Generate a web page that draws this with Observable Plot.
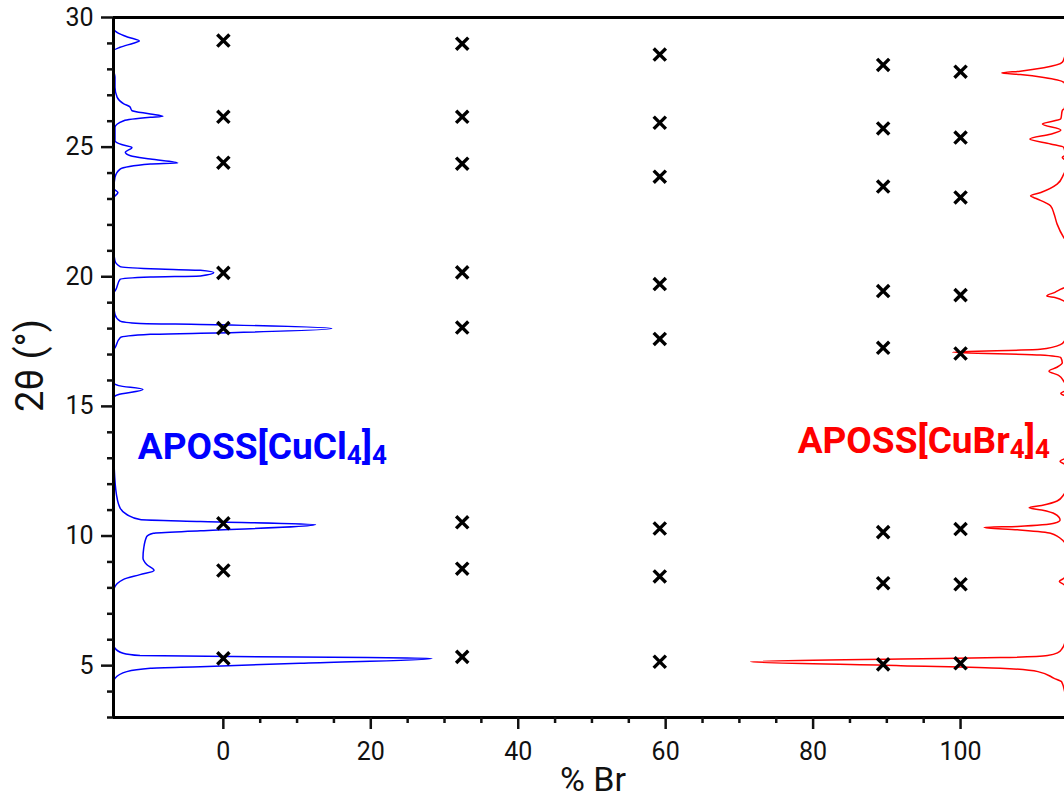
<!DOCTYPE html>
<html>
<head>
<meta charset="utf-8">
<script src="https://cdn.jsdelivr.net/npm/d3@7"></script>
<script src="https://cdn.jsdelivr.net/npm/@observablehq/plot@0.6"></script>
<style>
  html, body { margin: 0; padding: 0; background: #fff; }
  #chart { width: 1064px; height: 801px; overflow: hidden; }
</style>
</head>
<body>
<div id="chart"></div>
<script>
// ---- Data ----
// Composition (% Br) of each sample column of peak markers
const brPercent = [0, 32.4, 59.2, 89.5, 100];
// Peak positions 2θ (°) for each column (same order as brPercent)
const peaks0   = [29.11, 26.17, 24.40, 20.15, 18.02, 10.49, 8.67, 5.28];
const peaks32  = [28.99, 26.17, 24.36, 20.17, 18.04, 10.53, 8.74, 5.34];
const peaks59  = [28.57, 25.94, 23.86, 19.72, 17.60, 10.29, 8.44, 5.15];
const peaks89  = [28.17, 25.72, 23.48, 19.45, 17.26, 10.15, 8.18, 5.05];
const peaks100 = [27.91, 25.37, 23.06, 19.29, 17.04, 10.27, 8.14, 5.09];

// Blue XRD pattern of APOSS[CuCl4]4 (2θ, plotted on the % Br axis, baseline at left)
const blueTheta = [3.0,4.4,4.51,4.77,4.90,4.96,5.09,5.28,5.31,5.35,5.39,5.48,5.67,5.8,7.9,7.99,8.32,8.51,8.67,8.90,9.15,9.53,9.98,10.11,10.20,10.44,10.56,10.64,10.83,11.08,11.6,12.62,13.2,15.35,15.45,15.65,15.8,15.91,17.2,17.26,17.65,17.78,17.82,18.00,18.16,18.20,18.29,18.55,18.9,19.4,19.45,19.90,19.99,20.03,20.16,20.25,20.31,20.39,20.61,21.0,23.05,23.25,23.4,23.83,24.15,24.35,24.39,24.54,24.67,24.8,24.99,25.1,25.25,25.76,26.02,26.15,26.19,26.28,26.41,26.56,26.67,26.92,27.31,27.7,27.95,28.72,28.85,29.01,29.09,29.24,29.39,29.56,30.0];
const blueSignal = [-14.85,-14.85,-14.7,-13.1,-9.9,-3.1,10.4,28.3,19.5,1.4,-11.3,-13.6,-14.7,-14.85,-14.85,-14.8,-13.6,-11.3,-9.4,-10.4,-10.9,-10.8,-10.4,-9.5,-3.1,12.5,-3.1,-11.3,-13.1,-14.0,-14.5,-14.8,-14.85,-14.85,-14.3,-10.9,-14.2,-14.85,-14.85,-14.7,-14.0,-9.9,-3.1,14.7,-3.1,-11.3,-14.0,-14.7,-14.85,-14.85,-14.7,-14.0,-9.9,-3.1,-1.3,-3.1,-9.9,-14.0,-14.7,-14.85,-14.85,-14.3,-14.85,-14.7,-14.0,-9.9,-6.2,-9.9,-12.6,-13.3,-12.4,-13.8,-14.7,-14.7,-13.5,-9.9,-8.2,-9.9,-12.4,-12.7,-13.5,-14.4,-14.7,-14.7,-14.85,-14.85,-14.0,-12.2,-11.4,-12.9,-14.2,-14.85,-14.85];

// Red XRD pattern of APOSS[CuBr4]4 (baseline at right, peaks pointing left)
const redTheta = [3.0,3.5,3.88,4.38,4.51,4.77,4.90,5.0,5.15,5.26,5.31,5.39,5.5,5.67,5.93,6.3,8.0,8.15,8.25,8.35,8.5,9.6,9.79,10.11,10.24,10.33,10.37,10.50,10.62,10.85,11.0,11.09,11.18,11.35,11.6,11.9,12.7,12.88,13.05,15.35,15.5,15.65,15.97,16.2,16.36,16.5,16.68,16.88,16.98,17.09,17.2,17.39,17.52,17.8,18.9,19.07,19.2,19.26,19.4,19.52,19.65,21.3,21.51,22.03,22.41,22.74,22.86,23.0,23.12,23.25,23.57,23.96,24.3,24.5,24.6,24.7,24.99,25.12,25.31,25.5,25.66,25.89,26.09,26.41,26.5,27.3,27.5,27.69,27.8,27.86,27.93,28.06,28.27,28.47,28.8,30.0];
const redSignal = [114.5,114.4,114.2,113.7,112.7,110.5,105.4,91.9,71.5,91.9,105.4,111.8,113.2,113.8,114.2,114.5,114.5,113.9,113.4,113.9,114.5,114.5,114.0,112.2,107.7,103.2,107.7,112.8,113.5,112.8,111.0,109.3,111.0,113.1,114.0,114.5,114.5,113.5,114.5,114.5,113.6,114.5,114.0,113.3,112.0,113.0,113.8,113.6,110.8,98.9,110.8,113.6,114.1,114.5,114.5,114.0,112.8,111.7,112.8,113.6,114.5,114.5,114.0,113.1,112.7,112.2,111.5,110.4,109.5,110.9,113.1,114.0,114.5,114.2,113.8,114.2,114.0,112.2,109.4,112.2,113.6,111.1,113.6,113.8,114.1,114.3,114.0,111.3,108.1,105.6,108.1,111.3,113.8,114.1,114.5,114.5];

// Annotations: full text, parts (normal / subscript alternating), anchor, colour
const labels = [
  {text: "APOSS[CuCl4]4", parts: ["APOSS[CuCl", "4", "]", "4"], x: -11.6, y: 12.98, color: "#0000ff"},
  {text: "APOSS[CuBr4]4", parts: ["APOSS[CuBr", "4", "]", "4"], x: 77.9, y: 13.20, color: "#ff0000"}
];

// Axes
const xDomain = [-14.9, 114.1];
const yDomain = [3, 30];
const xMajor = [0, 20, 40, 60, 80, 100];
const xMinor = [5, 10, 15, 25, 30, 35, 45, 50, 55, 65, 70, 75, 85, 90, 95];
const yMajor = [5, 10, 15, 20, 25, 30];
const yMinor = [3, 4, 6, 7, 8, 9, 11, 12, 13, 14, 16, 17, 18, 19, 21, 22, 23, 24, 26, 27, 28, 29];
const xTitle = "% Br";
const yTitle = "2θ (°)";

// ---- Build tables ----
const peakCols = [peaks0, peaks32, peaks59, peaks89, peaks100];
const crosses = [];
peakCols.forEach((col, i) => col.forEach(t => crosses.push({br: brPercent[i], theta: t})));
const blue = blueTheta.map((t, i) => ({theta: t, v: blueSignal[i]}));
const red = redTheta.map((t, i) => ({theta: t, v: redSignal[i]}));

const tickColor = "#111";
const chart = Plot.plot({
  width: 1064,
  height: 801,
  marginLeft: 113,
  marginRight: 0,
  marginTop: 17,
  marginBottom: 84,
  x: {domain: xDomain, axis: null},
  y: {domain: yDomain, axis: null},
  style: {fontFamily: "Roboto, 'Noto Sans', sans-serif", background: "#fff", color: tickColor},
  marks: [
    Plot.lineY(blue, {x: "v", y: "theta", stroke: "#0000ff", strokeWidth: 1.5, curve: "monotone-y", clip: true}),
    Plot.lineY(red, {x: "v", y: "theta", stroke: "#ff0000", strokeWidth: 1.5, curve: "monotone-y", clip: true}),
    Plot.dot(crosses, {x: "br", y: "theta", symbol: "times", r: 5.6, stroke: "#000", strokeWidth: 3.4}),
    Plot.text(labels, {x: "x", y: "y", text: "text", fill: "color", fontSize: 37, fontWeight: "bold", textAnchor: "start", lineAnchor: "bottom"}),
    Plot.ruleX([xDomain[0]], {stroke: "#000", strokeWidth: 3}),
    Plot.ruleY([yDomain[0]], {stroke: "#000", strokeWidth: 3}),
    Plot.ruleY([yDomain[1]], {stroke: "#000", strokeWidth: 3}),
    Plot.axisY(yMajor, {anchor: "left", tickSize: 12, tickPadding: 8, fontSize: 25, strokeWidth: 2.5, label: null, tickFormat: d => String(d)}),
    Plot.axisY(yMinor, {anchor: "left", tickSize: 6, strokeWidth: 2.5, label: null, tickFormat: () => ""}),
    Plot.axisX(xMajor, {anchor: "bottom", tickSize: 12, tickPadding: 13, fontSize: 25, strokeWidth: 2.5, label: null, tickFormat: d => String(d)}),
    Plot.axisX(xMinor, {anchor: "bottom", tickSize: 6, strokeWidth: 2.5, label: null, tickFormat: () => ""}),
    Plot.text([yTitle], {frameAnchor: "left", dx: -83, dy: -2, rotate: -90, textAnchor: "middle", lineAnchor: "middle", fontSize: 38, fill: "#111"}),
    Plot.text([xTitle], {frameAnchor: "bottom", dx: 4, dy: 63, textAnchor: "middle", lineAnchor: "middle", fontSize: 34, fill: "#111"})
  ]
});
document.getElementById("chart").appendChild(chart);

// Rebuild annotation texts with subscripts
labels.forEach(lab => {
  const el = Array.from(chart.querySelectorAll("text")).find(t => t.textContent === lab.text);
  if (!el) return;
  while (el.firstChild) el.removeChild(el.firstChild);
  lab.parts.forEach((p, i) => {
    const ts = document.createElementNS("http://www.w3.org/2000/svg", "tspan");
    ts.textContent = p;
    if (i % 2 === 1) {
      ts.setAttribute("font-size", "26");
      ts.setAttribute("baseline-shift", "-5");
    }
    el.appendChild(ts);
  });
});
</script>
</body>
</html>
